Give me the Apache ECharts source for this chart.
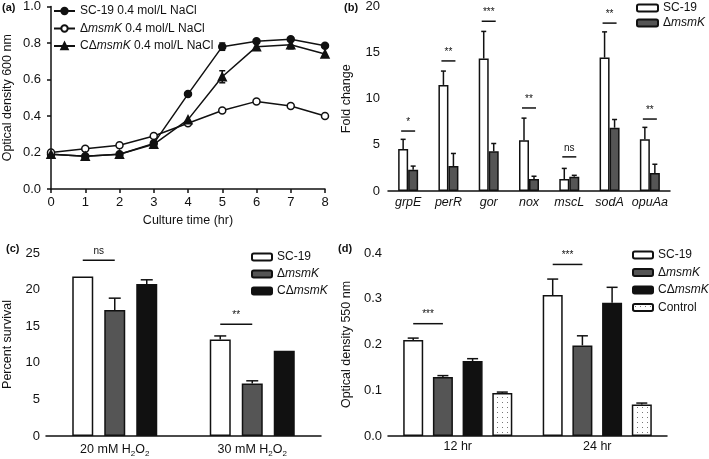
<!DOCTYPE html>
<html>
<head>
<meta charset="utf-8">
<script src="https://cdn.jsdelivr.net/npm/echarts@6/dist/echarts.min.js"></script>
<style>
  html, body { margin: 0; padding: 0; background: #fff; }
  #main { width: 709px; height: 459px; }
</style>
</head>
<body>
<div id="main"></div>
<script>
  // (a) growth under 0.4 mol/L NaCl
  const timeHr = [0, 1, 2, 3, 4, 5, 6, 7, 8];
  const odWT = [0.19, 0.18, 0.19, 0.25, 0.52, 0.78, 0.81, 0.82, 0.785];
  const odWTErr = [0, 0, 0, 0, 0, 0.02, 0, 0, 0];
  const odMut = [0.20, 0.22, 0.24, 0.29, 0.36, 0.43, 0.48, 0.455, 0.40];
  const odMutErr = [0, 0, 0, 0, 0, 0, 0, 0, 0];
  const odComp = [0.19, 0.18, 0.19, 0.245, 0.38, 0.615, 0.78, 0.79, 0.74];
  const odCompErr = [0, 0, 0, 0, 0, 0.033, 0, 0.022, 0];

  // (b) relative expression
  const genes = ['grpE', 'perR', 'gor', 'nox', 'mscL', 'sodA', 'opuAa'];
  const foldWT = [4.54, 11.5, 14.36, 5.5, 1.3, 14.46, 5.6];
  const foldWTErr = [1.06, 1.5, 2.94, 2.4, 1.15, 2.79, 1.3];
  const foldMut = [2.3, 2.7, 4.3, 1.3, 1.55, 6.86, 1.96];
  const foldMutErr = [0.4, 1.37, 0.85, 0.3, 0.15, 0.89, 0.94];
  const foldSig = [6.5, 14.1, 18.4, 9.0, 3.7, 18.2, 7.8];
  const foldSigText = ['*', '**', '***', '**', 'ns', '**', '**'];

  // (c) H2O2 survival
  const doses = ['20 mM H2O2', '30 mM H2O2'];
  const survWT = [21.8, 13.2];
  const survWTErr = [0, 0.47];
  const survMut = [17.23, 7.18];
  const survMutErr = [1.6, 0.36];
  const survComp = [20.75, 11.65];
  const survCompErr = [0.59, 0];
  const survSig = [24.0, 15.26];
  const survSigText = ['ns', '**'];

  // (d) biofilm OD550
  const times = ['12 hr', '24 hr'];
  const bioWT = [0.21, 0.308];
  const bioWTErr = [0.004, 0.035];
  const bioMut = [0.129, 0.198];
  const bioMutErr = [0.003, 0.021];
  const bioComp = [0.164, 0.291];
  const bioCompErr = [0.005, 0.034];
  const bioCtrl = [0.094, 0.069];
  const bioCtrlErr = [0.002, 0.003];
  const bioSig = [0.2455, 0.375];
  const bioSigText = ['***', '***'];

  const FONT = '"Liberation Sans", Arial, sans-serif';
  const INK = '#111';
  const GRAY = '#555';
  const FS = 12.5;   // axis names, category labels
  const LFS = 12;    // legends
  const TFS = 13;    // numeric tick labels

  const dots = document.createElement('canvas');
  dots.width = 5; dots.height = 5;
  const g = dots.getContext('2d');
  g.fillStyle = '#fff'; g.fillRect(0, 0, 5, 5);
  g.fillStyle = '#777'; g.fillRect(2, 2, 1, 1);
  const DOTTED = { image: dots, repeat: 'repeat' };

  const chart = echarts.init(document.getElementById('main'));

  const italicMsmK = name => name.replace('msmK', '{i|msmK}');
  const tickLbl = (margin, extra) => Object.assign(
    { color: INK, fontFamily: FONT, fontSize: TFS, margin }, extra || {});

  function axisCommon(extra) {
    return Object.assign({
      axisLine: { lineStyle: { color: INK, width: 1.5 } },
      axisTick: { inside: false, length: 4, lineStyle: { color: INK, width: 1.5 } },
      axisLabel: tickLbl(6),
      splitLine: { show: false },
      nameTextStyle: { color: INK, fontFamily: FONT, fontSize: FS }
    }, extra);
  }

  // bar layout per panel: width, gap (px)
  const LAY = { 1: [10, 0], 2: [21, 11], 3: [20, 9.7] };
  const barOff = (ax, i, n) => (i - (n - 1) / 2) * (LAY[ax][0] + LAY[ax][1]);

  function bars(name, ax, data, color) {
    return {
      type: 'bar', name, xAxisIndex: ax, yAxisIndex: ax, data,
      barWidth: LAY[ax][0], barGap: (LAY[ax][1] / LAY[ax][0] * 100) + '%',
      itemStyle: { color, borderColor: INK, borderWidth: 1.5 },
      z: 2
    };
  }

  function barErr(ax, vals, errs, i, n, cap) {
    const off = barOff(ax, i, n);
    return {
      type: 'custom', xAxisIndex: ax, yAxisIndex: ax, z: 3, silent: true,
      data: vals.map((v, k) => [k, v, errs[k]]).filter(d => d[2] > 0),
      renderItem: (params, api) => {
        const p0 = api.coord([api.value(0), api.value(1)]);
        const p1 = api.coord([api.value(0), api.value(1) + api.value(2)]);
        const x = p0[0] + off;
        const st = { stroke: INK, lineWidth: 1.5 };
        return { type: 'group', children: [
          { type: 'line', shape: { x1: x, y1: p0[1], x2: x, y2: p1[1] }, style: st },
          { type: 'line', shape: { x1: x - cap / 2, y1: p1[1], x2: x + cap / 2, y2: p1[1] }, style: st }
        ] };
      }
    };
  }

  function sig(ax, vals, labels, from, to) {
    return {
      type: 'custom', xAxisIndex: ax, yAxisIndex: ax, z: 3, silent: true,
      data: vals.map((v, k) => [k, v]),
      renderItem: (params, api) => {
        const p = api.coord([api.value(0), api.value(1)]);
        const x1 = p[0] + from, x2 = p[0] + to;
        return { type: 'group', children: [
          { type: 'line', shape: { x1, y1: p[1], x2, y2: p[1] }, style: { stroke: INK, lineWidth: 1.5 } },
          { type: 'text', style: {
              text: labels[params.dataIndex], x: (x1 + x2) / 2, y: p[1] - 4,
              align: 'center', verticalAlign: 'bottom',
              fill: INK, font: '10px ' + FONT } }
        ] };
      }
    };
  }

  function lineErr(vals, errs) {
    return {
      type: 'custom', xAxisIndex: 0, yAxisIndex: 0, z: 1, silent: true,
      data: timeHr.map((t, k) => [t, vals[k], errs[k]]).filter(d => d[2] > 0),
      renderItem: (params, api) => {
        const lo = api.coord([api.value(0), api.value(1) - api.value(2)]);
        const hi = api.coord([api.value(0), api.value(1) + api.value(2)]);
        const x = lo[0], st = { stroke: INK, lineWidth: 1.5 };
        return { type: 'group', children: [
          { type: 'line', shape: { x1: x, y1: lo[1], x2: x, y2: hi[1] }, style: st },
          { type: 'line', shape: { x1: x - 3, y1: lo[1], x2: x + 3, y2: lo[1] }, style: st },
          { type: 'line', shape: { x1: x - 3, y1: hi[1], x2: x + 3, y2: hi[1] }, style: st }
        ] };
      }
    };
  }

  function curve(name, vals, symbol, fill) {
    return {
      type: 'line', name, xAxisIndex: 0, yAxisIndex: 0,
      data: timeHr.map((t, k) => [t, vals[k]]),
      symbol, symbolSize: symbol === 'triangle' ? 8 : 7, showSymbol: true,
      lineStyle: { color: INK, width: 1.5 },
      itemStyle: { color: fill, borderColor: INK, borderWidth: 1.5 },
      z: 2
    };
  }

  const subH2O2 = v => v.replace('H2O2', 'H{s|2}O{s|2}');
  const legendBase = (left, top, gap, data, w, h) => ({
    orient: 'vertical', left, top, padding: 0, itemGap: gap, itemWidth: w, itemHeight: h,
    data, selectedMode: false, formatter: italicMsmK,
    textStyle: { color: INK, fontFamily: FONT, fontSize: LFS,
      rich: { i: { fontStyle: 'italic', fontSize: LFS, color: INK, fontFamily: FONT } } }
  });

  const panelLetter = (text, left, top) => ({
    type: 'text', left, top, style: { text, fill: INK, font: 'bold 11px ' + FONT }
  });

  const catTick = { alignWithLabel: true, length: 4, lineStyle: { color: INK, width: 1.5 } };

  chart.setOption({
    animation: false,
    backgroundColor: '#fff',
    textStyle: { fontFamily: FONT },
    graphic: [
      panelLetter('(a)', 2, 2), panelLetter('(b)', 344, 2),
      panelLetter('(c)', 6, 243), panelLetter('(d)', 338, 243)
    ],
    grid: [
      { left: 48, top: 4, width: 277, height: 185 },
      { left: 388, top: 4, width: 282, height: 187 },
      { left: 45, top: 253, width: 276, height: 183 },
      { left: 388, top: 253, width: 279, height: 183 }
    ],
    legend: [
      legendBase(53, 5, 5.5, ['SC-19 0.4 mol/L NaCl', 'ΔmsmK 0.4 mol/L NaCl', 'CΔmsmK 0.4 mol/L NaCl'], 21, 8),
      legendBase(636, 2, 3, ['SC-19', 'ΔmsmK'], 21, 7),
      legendBase(251, 251, 5, ['SC-19', 'ΔmsmK', 'CΔmsmK'], 20, 7),
      legendBase(632, 249, 5.5, ['SC-19', 'ΔmsmK', 'CΔmsmK', 'Control'], 20, 7)
    ],
    xAxis: [
      axisCommon({ gridIndex: 0, type: 'value', min: 0, max: 8, interval: 1,
        axisLabel: tickLbl(7),
        name: 'Culture time (hr)', nameLocation: 'middle', nameGap: 25 }),
      axisCommon({ gridIndex: 1, type: 'category', data: genes,
        axisTick: { show: false },
        axisLabel: tickLbl(5, { fontStyle: 'italic', interval: 0, fontSize: FS }) }),
      axisCommon({ gridIndex: 2, type: 'category', data: doses,
        axisTick: catTick,
        axisLabel: tickLbl(6, { fontSize: FS, interval: 0, lineHeight: 16, formatter: subH2O2,
          rich: { s: { fontSize: 8, fontFamily: FONT, color: INK, verticalAlign: 'bottom', lineHeight: 16 } } }) }),
      axisCommon({ gridIndex: 3, type: 'category', data: times,
        axisTick: catTick,
        axisLabel: tickLbl(4, { fontSize: FS, interval: 0 }) })
    ],
    yAxis: [
      axisCommon({ gridIndex: 0, type: 'value', min: 0, max: 1, interval: 0.2,
        axisLabel: tickLbl(10, { formatter: v => v.toFixed(1) }),
        name: 'Optical density 600 nm', nameLocation: 'middle', nameGap: 37 }),
      axisCommon({ gridIndex: 1, type: 'value', min: 0, max: 20, interval: 5,
        axisLabel: tickLbl(8),
        name: 'Fold change', nameLocation: 'middle', nameGap: 35 }),
      axisCommon({ gridIndex: 2, type: 'value', min: 0, max: 25, interval: 5,
        axisLabel: tickLbl(6),
        name: 'Percent survival', nameLocation: 'middle', nameGap: 32 }),
      axisCommon({ gridIndex: 3, type: 'value', min: 0, max: 0.4, interval: 0.1,
        axisLabel: tickLbl(6, { formatter: v => v.toFixed(1) }),
        name: 'Optical density 550 nm', nameLocation: 'middle', nameGap: 35 })
    ],
    series: [
      // (a)
      lineErr(odWT, odWTErr), lineErr(odMut, odMutErr), lineErr(odComp, odCompErr),
      curve('SC-19 0.4 mol/L NaCl', odWT, 'circle', INK),
      curve('ΔmsmK 0.4 mol/L NaCl', odMut, 'circle', '#fff'),
      curve('CΔmsmK 0.4 mol/L NaCl', odComp, 'triangle', INK),
      // (b)
      bars('SC-19', 1, foldWT, '#fff'),
      bars('ΔmsmK', 1, foldMut, GRAY),
      barErr(1, foldWT, foldWTErr, 0, 2, 5),
      barErr(1, foldMut, foldMutErr, 1, 2, 5),
      sig(1, foldSig, foldSigText, -7, 7),
      // (c)
      bars('SC-19', 2, survWT, '#fff'),
      bars('ΔmsmK', 2, survMut, GRAY),
      bars('CΔmsmK', 2, survComp, INK),
      barErr(2, survWT, survWTErr, 0, 3, 12),
      barErr(2, survMut, survMutErr, 1, 3, 12),
      barErr(2, survComp, survCompErr, 2, 3, 12),
      sig(2, survSig, survSigText, barOff(2, 0, 3), barOff(2, 1, 3)),
      // (d)
      bars('SC-19', 3, bioWT, '#fff'),
      bars('ΔmsmK', 3, bioMut, GRAY),
      bars('CΔmsmK', 3, bioComp, INK),
      bars('Control', 3, bioCtrl, DOTTED),
      barErr(3, bioWT, bioWTErr, 0, 4, 11),
      barErr(3, bioMut, bioMutErr, 1, 4, 11),
      barErr(3, bioComp, bioCompErr, 2, 4, 11),
      barErr(3, bioCtrl, bioCtrlErr, 3, 4, 11),
      sig(3, bioSig, bioSigText, barOff(3, 0, 4), barOff(3, 1, 4))
    ]
  });
</script>
</body>
</html>
